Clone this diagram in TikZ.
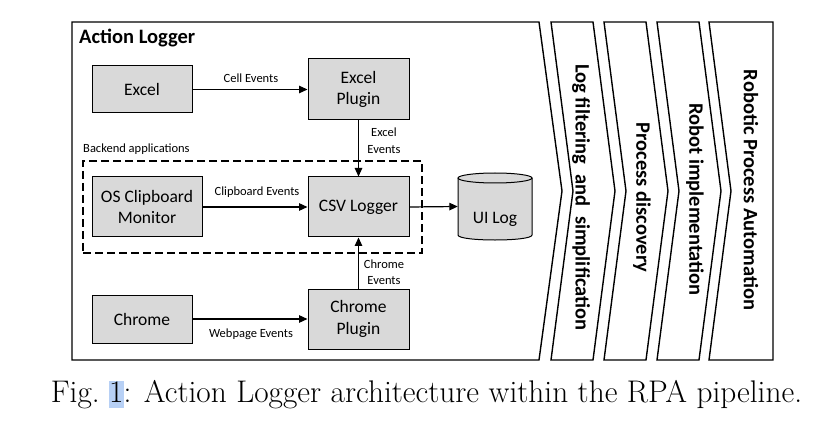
\documentclass[tikz,border=0pt]{standalone}
\usepackage{fontspec}
\newfontfamily\calfont{Carlito}
\usetikzlibrary{arrows.meta}
\definecolor{boxgray}{RGB}{217,217,217}
\definecolor{hlblue}{RGB}{183,208,245}
\begin{document}
\begin{tikzpicture}[x=1pt,y=-1pt,
  box/.style={draw=black, line width=1pt, fill=boxgray, align=center, inner sep=0pt,
    font=\calfont\fontsize{17.5}{21.5}\selectfont},
  lbl/.style={inner sep=0pt, align=center, font=\calfont\fontsize{12.5}{16.5}\selectfont},
  stage/.style={draw=black, line width=1.4pt, line join=miter},
  stagetext/.style={inner sep=0pt, rotate=-90, font=\calfont\bfseries\fontsize{20.5}{24}\selectfont},
  arr/.style={line width=1.2pt, -{Triangle[length=8.5pt,width=7.5pt]}}]
\path[use as bounding box] (0,0) rectangle (831,425);

% Action Logger outer chevron
\draw[stage] (72,22) -- (539,22) -- (562,191) -- (539,360) -- (72,360) -- cycle;
\node[anchor=base west, inner sep=0pt, font=\calfont\bfseries\fontsize{20.5}{24}\selectfont] (title) at (79,43.5) {Action Logger};

% pipeline stages
\foreach \L in {551,604,657}{
  \draw[stage] (\L,22) -- (\L+42,22) -- (\L+64,191) -- (\L+42,360) -- (\L,360) -- (\L+22,191) -- cycle;
}
\draw[stage] (709,22) -- (773,22) -- (773,360) -- (709,360) -- (731,191) -- cycle;
\node[stagetext] (s1) at (581,197.5) {Log filtering\hspace{5pt} and\hspace{5pt} simplification};
\node[stagetext] (s2) at (642,197.5) {Process discovery};
\node[stagetext] (s3) at (695,199.5) {Robot implementation};
\node[stagetext] (s4) at (751,190) {Robotic Process Automation};

% backend dashed box
\node[draw=black, line width=1.2pt, dash pattern=on 8pt off 4pt, minimum width=339pt, minimum height=92pt, inner sep=0pt] (backend) at (252.5,207) {};
\node[lbl, anchor=west] (backendlbl) at (83,149) {Backend applications};

% boxes
\node[box, minimum width=100pt, minimum height=47pt] (excel) at (142,89.5) {Excel};
\node[box, minimum width=101pt, minimum height=61pt] (xplugin) at (358.5,89.5) {Excel\\Plugin};
\node[box, minimum width=110pt, minimum height=60pt] (clip) at (147,207) {OS Clipboard\\Monitor};
\node[box, minimum width=101pt, minimum height=60pt] (csv) at (358.5,207) {CSV Logger};
\node[box, minimum width=100pt, minimum height=48pt] (chrome) at (142,319) {Chrome};
\node[box, minimum width=101pt, minimum height=60pt] (cplugin) at (358.5,319) {Chrome\\Plugin};

% UI Log cylinder
\node[inner sep=0pt, minimum width=74pt, minimum height=67pt] (uilog) at (495,206.5) {};
\fill[boxgray] (458,178) -- (458,235) .. controls (458,241.67) and (532,241.67) .. (532,235) -- (532,178) -- cycle;
\draw[line width=1pt] (458,178) -- (458,235) .. controls (458,241.67) and (532,241.67) .. (532,235) -- (532,178);
\draw[line width=1pt, fill=boxgray] (495,178) ellipse [x radius=37, y radius=5];
\node[anchor=base, inner sep=0pt, font=\calfont\fontsize{17.5}{21.5}\selectfont] (uilogtext) at (495,224) {UI Log};

% arrows
\draw[arr] (excel.east) -- (xplugin.west);
\draw[arr] (xplugin.south) -- (csv.north);
\draw[arr] (clip.east) -- (csv.west);
\draw[arr] (csv.east) -- (uilog.west);
\draw[arr] (chrome.east) -- (cplugin.west);
\draw[arr] (cplugin.north) -- (csv.south);

% labels
\node[lbl] (l1) at (251,78) {Cell Events};
\node[lbl] (l2) at (384,140.5) {Excel\\Events};
\node[lbl] (l3) at (257,192) {Clipboard Events};
\node[lbl] (l4) at (384,272) {Chrome\\Events};
\node[lbl] (l5) at (251,334) {Webpage Events};

% caption
\node[anchor=base, inner sep=0pt, font=\fontsize{31.3}{36}\selectfont] (caption) at (426.5,402)
  {Fig.~{\setlength{\fboxsep}{0pt}\colorbox{hlblue}{\rule[-0.2em]{0pt}{0.85em}1}}: Action Logger architecture within the RPA pipeline.};
\end{tikzpicture}
\end{document}
